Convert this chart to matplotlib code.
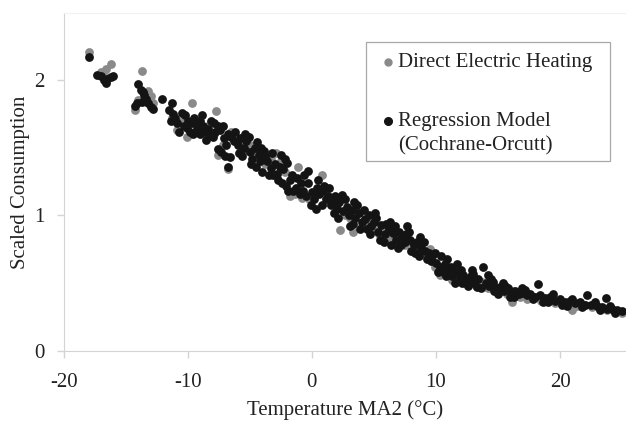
import matplotlib
matplotlib.use("Agg")
import matplotlib.pyplot as plt
from matplotlib.patches import Rectangle
from matplotlib.lines import Line2D

plt.rcParams['font.family'] = ['Liberation Serif', 'DejaVu Serif']
plt.rcParams['axes.unicode_minus'] = False

# Direct Electric Heating (measured), grey
heat_x = [-18.0, -17.0, -16.6, -16.2, -16.8,
          -14.3, -13.7, -13.2, -13.0, -12.8, -14.0,
          -11.3, -10.9, -10.1, -9.7, -10.5, -9.3, -8.9, -8.4, -7.7, -7.9, -7.6, -6.8, -7.2, -6.5,
          -6.0, -5.5, -5.0, -4.7, -4.2, -3.8, -3.3, -2.9, -2.5, -2.2, -1.8, -1.1, -1.4, -0.8, -0.2,
          0.3, 0.8, 1.2, 1.6, 2.0, 2.3, 2.7, 3.1, 3.5, 3.3, 4.0, 4.4, 4.9, 5.4, 5.8, 6.3, 6.6, 7.0,
          7.5, 8.0, 8.5, 9.0, 9.5, 9.9, 10.3, 10.8, 11.3, 11.8, 12.3, 12.7, 13.2, 13.7, 14.2, 14.7,
          15.2, 15.7, 16.1, 16.2, 16.8, 17.3, 17.9, 18.5, 19.0, 19.6, 20.2, 20.8, 21.0, 21.4, 22.0,
          22.6, 23.2, 23.8, 24.4, 25.0]
heat_y = [2.21, 2.06, 2.08, 2.12, 2.04,
          1.78, 2.07, 1.92, 1.88, 1.83, 1.85,
          1.72, 1.63, 1.58, 1.83, 1.70, 1.66, 1.63, 1.66, 1.77, 1.60, 1.45, 1.34, 1.52, 1.62,
          1.55, 1.48, 1.52, 1.45, 1.48, 1.38, 1.42, 1.46, 1.40, 1.32, 1.14, 1.36, 1.16, 1.13, 1.12,
          1.18, 1.30, 1.10, 1.13, 1.08, 0.89, 1.00, 0.98, 1.03, 0.88, 0.92, 0.95, 0.90, 0.86, 0.92, 0.84, 0.80, 0.85,
          0.78, 0.80, 0.76, 0.72, 0.75, 0.62, 0.56, 0.60, 0.52, 0.56, 0.50, 0.53, 0.48, 0.51, 0.46, 0.48,
          0.44, 0.42, 0.36, 0.44, 0.40, 0.38, 0.40, 0.37, 0.38, 0.35, 0.36, 0.34, 0.30, 0.33, 0.34,
          0.32, 0.31, 0.30, 0.29, 0.28]

# Regression Model (Cochrane-Orcutt), black
model_x = [-18.0, -17.3, -17.0, -16.8, -16.5, -16.6, -16.2, -16.0,
           -14.0, -13.8, -13.6, -14.3, -14.1, -13.7, -13.4, -13.2, -13.0, -12.8, -12.1, -13.5,
           -11.3, -11.2, -11.4, -11.0, -10.9, -10.5, -10.3, -10.1, -10.0, -9.7, -9.5, -9.3, -9.0,
           -9.2, -8.8, -8.6, -8.4, -8.2, -8.0, -7.8, -7.6, -7.4, -7.6, -7.3, -7.0, -7.1, -6.8, -6.5,
           -6.3, -6.0, -6.6, -6.8, -5.8, -5.5, -5.3, -5.0, -4.8, -4.6, -4.3, -4.5, -4.2, -4.0, -3.8,
           -3.6, -3.3, -3.0, -2.8, -2.5, -2.2, -2.0, -2.4, -2.1, -1.8, -1.5, -1.3, -1.0, -0.7, -0.3,
           -0.3, -0.5, 0.0, 0.2, 0.4, 0.6, 0.9, 1.1, 1.3, 1.5, 1.7, 2.0, 2.2, 2.5, 2.8, 3.0, 3.2,
           3.5, 3.8, 4.0, 4.3, 4.6, 4.8, 5.0, 5.3, 5.6, 5.9, 6.2, 6.5, 6.8, 7.0, 7.3, 7.7, 7.5, 7.9,
           8.2, 8.5, 8.8, 9.1, 9.4, 9.7, 10.0, 10.3, 10.9, 10.6, 11.0, 11.3, 11.6, 11.9, 12.2, 12.5,
           12.8, 13.1, 13.4, 13.8, 14.0, 14.3, 14.6, 14.9, 15.2, 15.5, 15.8, 16.1, 16.4, 16.7, 17.0,
           17.3, 17.6, 18.2, 18.0, 18.4, 18.8, 19.2, 19.6, 20.0, 20.4, 20.8, 21.2, 21.6, 22.2, 22.0,
           22.5, 23.0, 23.4, 23.7, 23.8, 24.2, 24.6, 25.0,
           -9.8, -9.0, -8.5, -7.9, -5.6, -5.1, -4.4, -3.9, -3.1, -2.6, -1.6, -0.9, 0.3, 1.0, 1.8,
           2.4, 3.3, 3.6, 4.4, 5.1, 5.8, 6.3, 6.9, 7.6, 8.3, 8.7, 9.3, 9.9, 10.4, 10.8, 11.7, 12.1,
           12.9, 13.3, 14.2, 14.7, 15.4, 16.0, 16.9, 17.8, 19.0, 20.6, 21.8, 23.2, 24.4,
           -11.5, -10.7, -10.2, -9.6, -8.9, -8.1, -7.2, -6.9, -6.2, -5.9, -5.4, -4.9, -4.1, -3.5,
           -3.2, -2.7, -2.3, -1.9, -1.2, -0.6, -0.1, 0.5, 0.8, 1.4, 1.9, 2.1, 2.7, 3.1, 3.4, 3.9,
           4.2, 4.7, 5.2, 5.5, 6.0, 6.4, 6.7, 7.2, 7.8, 8.0, 8.6, 9.0, 9.6, 10.2, 10.7, 11.2, 11.5,
           12.0, 12.6, 13.0, 13.6, 14.4, 15.0, 15.6, 16.3, 17.2, 18.6, 19.4, 20.2, 21.0, 22.8, 24.0]
model_y = [2.17, 2.04, 2.03, 2.00, 2.01, 1.98, 2.02, 2.03,
           1.97, 1.93, 1.91, 1.81, 1.83, 1.84, 1.86, 1.83, 1.80, 1.79, 1.86, 1.89,
           1.83, 1.75, 1.70, 1.72, 1.68, 1.76, 1.66, 1.65, 1.70, 1.68, 1.72, 1.64, 1.60,
           1.68, 1.66, 1.62, 1.64, 1.60, 1.58, 1.62, 1.66, 1.63, 1.49, 1.47, 1.44, 1.57, 1.60, 1.58,
           1.55, 1.52, 1.43, 1.36, 1.57, 1.50, 1.55, 1.47, 1.42, 1.50, 1.45, 1.36, 1.40, 1.32, 1.44,
           1.40, 1.35, 1.38, 1.31, 1.45, 1.42, 1.39, 1.24, 1.22, 1.26, 1.18, 1.20, 1.16, 1.18, 1.33,
           1.24, 1.14, 1.17, 1.12, 1.20, 1.16, 1.18, 1.12, 1.14, 1.08, 1.10, 1.05, 1.10, 1.03, 1.06, 1.00, 1.04,
           0.98, 1.02, 0.95, 0.97, 1.00, 0.92, 0.95, 0.88, 0.93, 0.86, 0.90, 0.87, 0.82, 0.88, 0.84, 0.92, 0.80, 0.82,
           0.78, 0.80, 0.76, 0.74, 0.72, 0.70, 0.65, 0.62, 0.68, 0.58, 0.60, 0.55, 0.58, 0.54, 0.56, 0.52,
           0.55, 0.50, 0.53, 0.62, 0.50, 0.48, 0.51, 0.46, 0.47, 0.44, 0.46, 0.43, 0.44, 0.42, 0.43,
           0.41, 0.42, 0.49, 0.40, 0.41, 0.39, 0.40, 0.37, 0.38, 0.36, 0.37, 0.35, 0.36, 0.41, 0.34,
           0.34, 0.33, 0.32, 0.39, 0.31, 0.31, 0.30, 0.29,
           1.62, 1.70, 1.56, 1.68, 1.44, 1.58, 1.54, 1.48, 1.30, 1.36, 1.30, 1.24, 1.05, 1.22, 1.02,
           1.15, 0.94, 1.08, 0.90, 1.02, 0.80, 0.95, 0.76, 0.86, 0.72, 0.84, 0.68, 0.72, 0.70, 0.55, 0.64, 0.50,
           0.60, 0.47, 0.56, 0.44, 0.50, 0.40, 0.46, 0.38, 0.36, 0.33, 0.32, 0.30, 0.28,
           1.78, 1.62, 1.74, 1.60, 1.74, 1.70, 1.66, 1.52, 1.62, 1.46, 1.60, 1.38, 1.50, 1.30,
           1.46, 1.26, 1.34, 1.18, 1.28, 1.30, 1.08, 1.26, 1.08, 1.20, 1.14, 0.98, 1.12, 0.92, 1.10, 0.90,
           1.04, 0.86, 0.98, 0.82, 0.94, 0.78, 0.92, 0.78, 0.88, 0.74, 0.70, 0.80, 0.66, 0.58, 0.64, 0.62, 0.50,
           0.60, 0.48, 0.57, 0.46, 0.53, 0.42, 0.48, 0.40, 0.45, 0.36, 0.42, 0.34, 0.38, 0.36, 0.33]

x_ticks = [-20, -10, 0, 10, 20]
y_ticks = [0, 1, 2]

grey = '#8a8a8a'
black = '#141414'
axis_grey = '#d4d4d4'
text_col = '#222222'
fs = 15

fig = plt.figure(figsize=(6.26, 4.23), dpi=100)
ax = fig.add_axes([0.102, 0.171, 0.898, 0.798])

ax.scatter(heat_x, heat_y, s=40, color=grey, linewidths=0, zorder=2)
ax.scatter(model_x, model_y, s=40, color=black, linewidths=0, zorder=3)

ax.set_xlim(-20, 25.32)
ax.set_ylim(0, 2.496)
ax.set_xticks(x_ticks)
ax.set_yticks(y_ticks)
ax.tick_params(axis='both', colors=axis_grey, labelcolor=text_col, labelsize=fs, length=5, width=1)
ax.tick_params(axis='x', pad=11)
ax.tick_params(axis='y', pad=9)

for side in ['left', 'bottom']:
    ax.spines[side].set_color(axis_grey)
ax.spines['right'].set_visible(False)
ax.spines['top'].set_color('#f2f2f2')

ax.set_xlabel('Temperature MA2 (°C)', fontsize=fs, color=text_col, labelpad=6)
ax.set_ylabel('Scaled Consumption', fontsize=fs, color=text_col, labelpad=3)

# legend drawn by hand to match the boxed layout
fig.patches.append(Rectangle((366 / 626, 1 - 161 / 423), 244 / 626, 119 / 423,
                             transform=fig.transFigure, fill=False,
                             edgecolor='#a8a8a8', linewidth=0.9))
fig.lines.append(Line2D([388 / 626], [1 - 62 / 423], marker='o', markersize=5,
                        color=grey, transform=fig.transFigure))
fig.lines.append(Line2D([388 / 626], [1 - 121 / 423], marker='o', markersize=5.5,
                        color=black, transform=fig.transFigure))
fig.text(398 / 626, 1 - 62 / 423, 'Direct Electric Heating', fontsize=fs,
         color=text_col, va='center', ha='left')
fig.text(398 / 626, 1 - 121 / 423, 'Regression Model', fontsize=fs,
         color=text_col, va='center', ha='left')
fig.text(398 / 626, 1 - 146 / 423, '(Cochrane-Orcutt)', fontsize=fs,
         color=text_col, va='center', ha='left')

fig.savefig('out.png', dpi=100)
